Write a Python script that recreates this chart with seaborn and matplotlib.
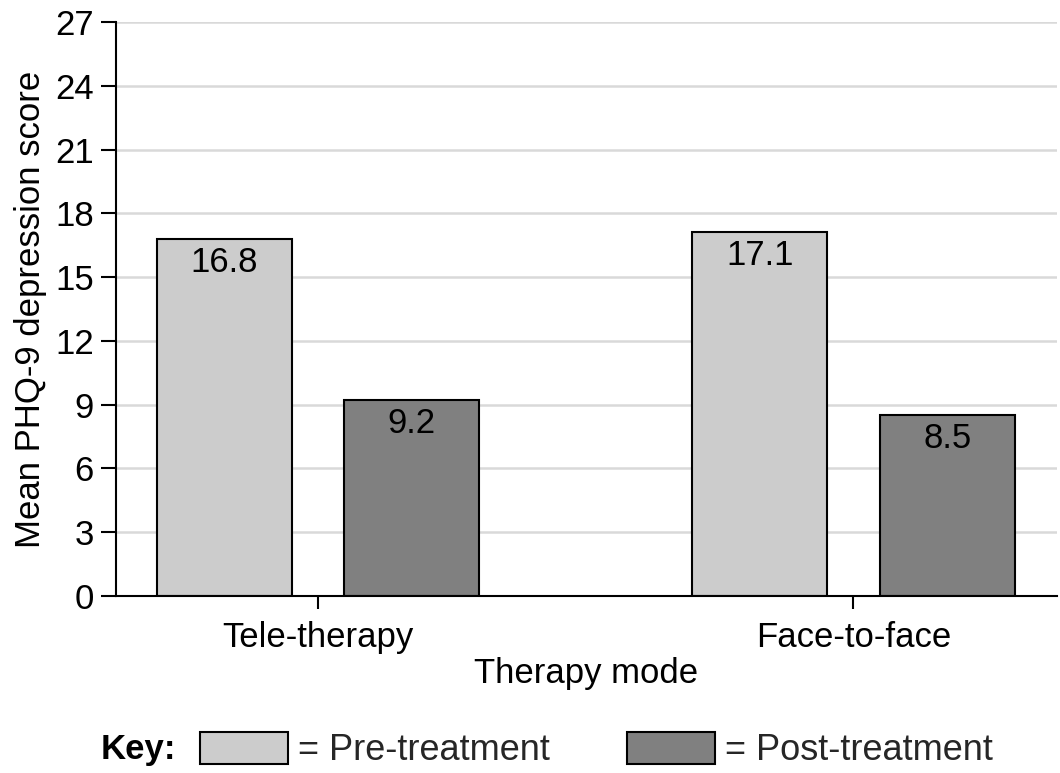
import pandas as pd
import numpy as np
import matplotlib
matplotlib.use('Agg')
import matplotlib.pyplot as plt
import seaborn as sns

# values
modes = ['Tele-therapy', 'Face-to-face']
pre_scores = [16.8, 17.1]
post_scores = [9.2, 8.5]
phases = ['Pre-treatment', 'Post-treatment']
yticks = [0, 3, 6, 9, 12, 15, 18, 21, 24, 27]

df = pd.DataFrame({
    'mode': modes * 2,
    'score': pre_scores + post_scores,
    'phase': [phases[0]] * len(modes) + [phases[1]] * len(modes),
})

sns.set_theme(style='white')
plt.rcParams['font.family'] = ['Liberation Sans', 'DejaVu Sans']

fig = plt.figure(figsize=(10.6, 7.73), dpi=100)
ax = fig.add_axes([0.1094, 0.229, 0.8877, 0.7425])

sns.barplot(data=df, x='mode', y='score', hue='phase', hue_order=phases,
            palette=['#cccccc', '#808080'], width=0.7, gap=0.28,
            edgecolor='black', linewidth=1.5, legend=False, ax=ax)

# value labels just inside the top of each bar
for cont in ax.containers:
    for bar in cont:
        h = bar.get_height()
        ax.annotate(f'{h:.1f}', (bar.get_x() + bar.get_width() / 2, h),
                    xytext=(0, -5), textcoords='offset points',
                    ha='center', va='top', fontsize=25, color='black')

ax.set_ylim(0, 27)
ax.set_yticks(yticks)
ax.set_xlim(-0.3776, 1.38)
ax.set_axisbelow(True)
ax.yaxis.grid(True, color='#d9d9d9', linewidth=1.8)
ax.xaxis.grid(False)
for s in ['top', 'right']:
    ax.spines[s].set_visible(False)
for s in ['left', 'bottom']:
    ax.spines[s].set_color('black')
    ax.spines[s].set_linewidth(1.5)
ax.tick_params(axis='both', direction='out', length=11, width=1.5,
               color='black', labelsize=25, labelcolor='black',
               left=True, bottom=True)
ax.tick_params(axis='x', length=9, pad=9)
ax.tick_params(axis='y', pad=5)

ax.set_xlabel('Therapy mode', fontsize=25, color='black', labelpad=2)
ax.set_ylabel('Mean PHQ-9 depression score', fontsize=25, color='black', labelpad=6)

# key at the bottom
handles = ax.containers[0].patches[:1] + ax.containers[1].patches[:1]
fig.legend(handles, ['= ' + p for p in phases], loc='center left',
           bbox_to_anchor=(0.1887, 0.030), ncol=2, frameon=False,
           fontsize=26, handlelength=2.44, handleheight=1.0,
           handletextpad=0.28, columnspacing=2.13, borderpad=0,
           borderaxespad=0)
fig.text(0.095, 0.030, 'Key:', fontsize=25, fontweight='bold',
         va='center', ha='left', color='black')

fig.savefig('out.png', dpi=100)
